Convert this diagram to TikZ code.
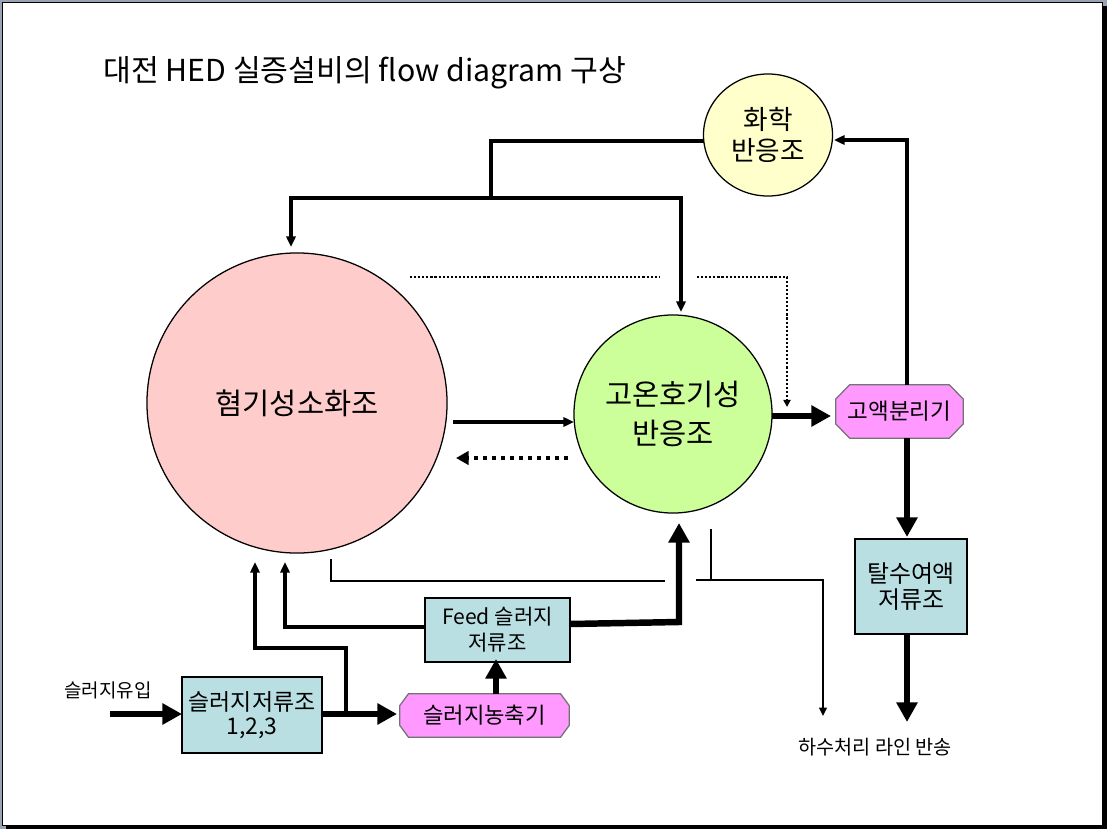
\documentclass[tikz,border=0pt]{standalone}
\usepackage{fontspec}
\setmainfont{Noto Sans CJK KR}
\usepackage{xcolor}
\usepackage{tikz}
\usetikzlibrary{arrows.meta}
\usetikzlibrary{shapes.geometric}
\pgfdeclarelayer{framelayer}
\pgfdeclarelayer{shapelayer}
\pgfdeclarelayer{nodelayer}
\pgfdeclarelayer{edgelayer}
\pgfsetlayers{framelayer,shapelayer,nodelayer,edgelayer,main}
\definecolor{digestfill}{HTML}{FFCCCC}
\definecolor{aerobfill}{HTML}{CCFF99}
\definecolor{chemfill}{HTML}{FFFFCC}
\definecolor{tankfill}{HTML}{B9DFE3}
\definecolor{sepfill}{HTML}{FF99FF}
\definecolor{slideedge}{HTML}{9AA2B6}
\tikzset{
    none/.style = {inner sep=0pt},
    reactor/.style = {circle, draw, line width=0.9pt, align=center, inner sep=0pt},
    tank/.style = {rectangle, draw, line width=0.9pt, fill=tankfill, align=center, inner sep=0pt},
    unit/.style = {rectangle, align=center, inner sep=0pt},
    unit outline/.style = {fill=sepfill, draw=black!55, line width=0.9pt},
    pipe/.style = {line width=2.4pt},
    thin pipe/.style = {line width=1.6pt},
    pipe arrow/.style = {line width=2.4pt, -{Triangle[length=7.5pt, width=6.5pt]}},
    thin arrow/.style = {line width=1.6pt, -{Triangle[length=6pt, width=5.5pt]}},
    main arrow/.style = {line width=4.6pt, -{Triangle[length=14pt, width=14.5pt]}},
    return arrow/.style = {line width=3pt, dash pattern=on 3.2pt off 3.2pt, -{Triangle[length=9pt, width=9.5pt]}},
    gas line/.style = {line width=1.5pt, dash pattern=on 1.5pt off 1.4pt},
    gas arrow/.style = {gas line, -{Triangle[length=5pt, width=5pt]}}
}
% octagon round a unit node: #1 node, #2 horizontal cut, #3 vertical cut
\newcommand{\unitoutline}[3]{
    \draw [style=unit outline] ([xshift=#2]#1.north west) -- ([xshift=-#2]#1.north east)
        -- ([yshift=-#3]#1.north east) -- ([yshift=#3]#1.south east)
        -- ([xshift=-#2]#1.south east) -- ([xshift=#2]#1.south west)
        -- ([yshift=#3]#1.south west) -- ([yshift=-#3]#1.north west) -- cycle;
}
\begin{document}
\begin{tikzpicture}[x=0.025cm, y=-0.025cm]
    \useasboundingbox (0,0) rectangle (1107,829);
    \begin{pgfonlayer}{framelayer}
        \fill [slideedge] (0,0) rectangle (1107,829);
        \fill [black] (6,6) rectangle (1107,829);
        \filldraw [fill=white, draw=black, line width=0.6pt] (2,2) rectangle (1102,825);
    \end{pgfonlayer}
    \begin{pgfonlayer}{nodelayer}
        \node [style=none, anchor=west, font=\fontsize{21.5}{25}\selectfont] (0) at (103,73) {대전 HED 실증설비의 flow diagram 구상};
        \node [style=reactor, fill=digestfill, minimum size=7.5cm, font=\fontsize{21}{28}\selectfont] (1) at (297,403) {혐기성소화조};
        \node [style=reactor, fill=aerobfill, minimum size=4.95cm, font=\fontsize{21}{27.5}\selectfont] (2) at (673,414) {고온호기성\\반응조};
        \node [style=reactor, ellipse, fill=chemfill, minimum width=3.225cm, minimum height=3.05cm, font=\fontsize{19}{21.5}\selectfont] (3) at (768,135) {화학\\반응조};
        \node [style=unit, minimum width=3.175cm, minimum height=1.325cm, font=\fontsize{16}{18}\selectfont] (4) at (899.5,411.5) {고액분리기};
        \node [style=tank, minimum width=2.8cm, minimum height=2.375cm, font=\fontsize{17}{18.5}\selectfont] (5) at (911,586.5) {탈수여액\\저류조};
        \node [style=tank, minimum width=3.625cm, minimum height=1.6cm, font=\fontsize{15}{18.5}\selectfont] (6) at (497.5,630) {Feed 슬러지\\저류조};
        \node [style=tank, minimum width=3.5cm, minimum height=1.9cm, font=\fontsize{16.3}{17.5}\selectfont] (7) at (252,715) {슬러지저류조\\1,2,3};
        \node [style=unit, minimum width=4.225cm, minimum height=1.075cm, font=\fontsize{15.8}{17}\selectfont] (8) at (484.5,715.5) {슬러지농축기};
        \node [style=none, font=\fontsize{13.5}{15}\selectfont] (9) at (108,690) {슬러지유입};
        \node [style=none, font=\fontsize{14}{16}\selectfont] (10) at (875,747) {하수처리 라인 반송};
        \node [style=none] (11) at (704,141) {};
        \node [style=none] (12) at (491,141) {};
        \node [style=none] (13) at (491,198) {};
        \node [style=none] (14) at (291,198) {};
        \node [style=none] (15) at (291,247) {};
        \node [style=none] (16) at (681,198) {};
        \node [style=none] (17) at (681,312) {};
        \node [style=none] (18) at (907,140) {};
        \node [style=none] (19) at (834,140) {};
        \node [style=none] (20) at (907,385) {};
        \node [style=none] (21) at (772,416) {};
        \node [style=none] (22) at (831,416) {};
        \node [style=none] (23) at (907,438) {};
        \node [style=none] (24) at (907,537) {};
        \node [style=none] (25) at (907,634) {};
        \node [style=none] (26) at (907,722) {};
        \node [style=none] (27) at (410,277) {};
        \node [style=none] (28) at (660,277) {};
        \node [style=none] (29) at (697,277) {};
        \node [style=none] (30) at (787,277) {};
        \node [style=none] (31) at (787,407) {};
        \node [style=none] (32) at (453,422) {};
        \node [style=none] (33) at (574,422) {};
        \node [style=none] (34) at (568,458) {};
        \node [style=none] (35) at (456,458) {};
        \node [style=none] (36) at (331,559) {};
        \node [style=none] (37) at (331,581) {};
        \node [style=none] (38) at (665,581) {};
        \node [style=none] (39) at (711,529) {};
        \node [style=none] (40) at (711,580) {};
        \node [style=none] (41) at (696,580) {};
        \node [style=none] (42) at (823,580) {};
        \node [style=none] (43) at (823,716) {};
        \node [style=none] (44) at (570,624) {};
        \node [style=none] (45) at (679,622) {};
        \node [style=none] (46) at (679,523) {};
        \node [style=none] (47) at (425,627) {};
        \node [style=none] (48) at (285,627) {};
        \node [style=none] (49) at (285,562) {};
        \node [style=none] (50) at (322,714) {};
        \node [style=none] (51) at (397,714) {};
        \node [style=none] (52) at (346,714) {};
        \node [style=none] (53) at (346,648) {};
        \node [style=none] (54) at (255,648) {};
        \node [style=none] (55) at (255,562) {};
        \node [style=none] (56) at (110,714) {};
        \node [style=none] (57) at (182,714) {};
        \node [style=none] (58) at (496,694) {};
        \node [style=none] (59) at (496,659) {};
    \end{pgfonlayer}
    \begin{pgfonlayer}{shapelayer}
        \unitoutline{4}{0.35cm}{0.36cm}
        \unitoutline{8}{0.22cm}{0.3cm}
    \end{pgfonlayer}
    \begin{pgfonlayer}{edgelayer}
        % chemical reactor back to both reactors
        \draw [style=pipe] (11.center) to (12.center) to (13.center);
        \draw [style=pipe arrow] (13.center) to (14.center) to (15.center);
        \draw [style=pipe arrow] (13.center) to (16.center) to (17.center);
        \draw [style=pipe arrow] (20.center) to (18.center) to (19.center);
        \draw [style=main arrow] (21.center) to (22.center);
        \draw [style=main arrow] (23.center) to (24.center);
        \draw [style=main arrow] (25.center) to (26.center);
        \draw [style=gas line] (27.center) to (28.center);
        \draw [style=gas arrow] (29.center) to (30.center) to (31.center);
        \draw [style=pipe arrow] (32.center) to (33.center);
        \draw [style=return arrow] (34.center) to (35.center);
        \draw [style=thin pipe] (36.center) to (37.center) to (38.center);
        \draw [style=thin pipe] (39.center) to (40.center);
        \draw [style=thin arrow] (41.center) to (42.center) to (43.center);
        \draw [style=main arrow] (44.center) to (45.center) to (46.center);
        \draw [style=pipe arrow] (47.center) to (48.center) to (49.center);
        \draw [style=main arrow] (50.center) to (51.center);
        \draw [style=pipe arrow] (52.center) to (53.center) to (54.center) to (55.center);
        \draw [style=main arrow] (56.center) to (57.center);
        \draw [style=main arrow] (58.center) to (59.center);
    \end{pgfonlayer}
\end{tikzpicture}
\end{document}
